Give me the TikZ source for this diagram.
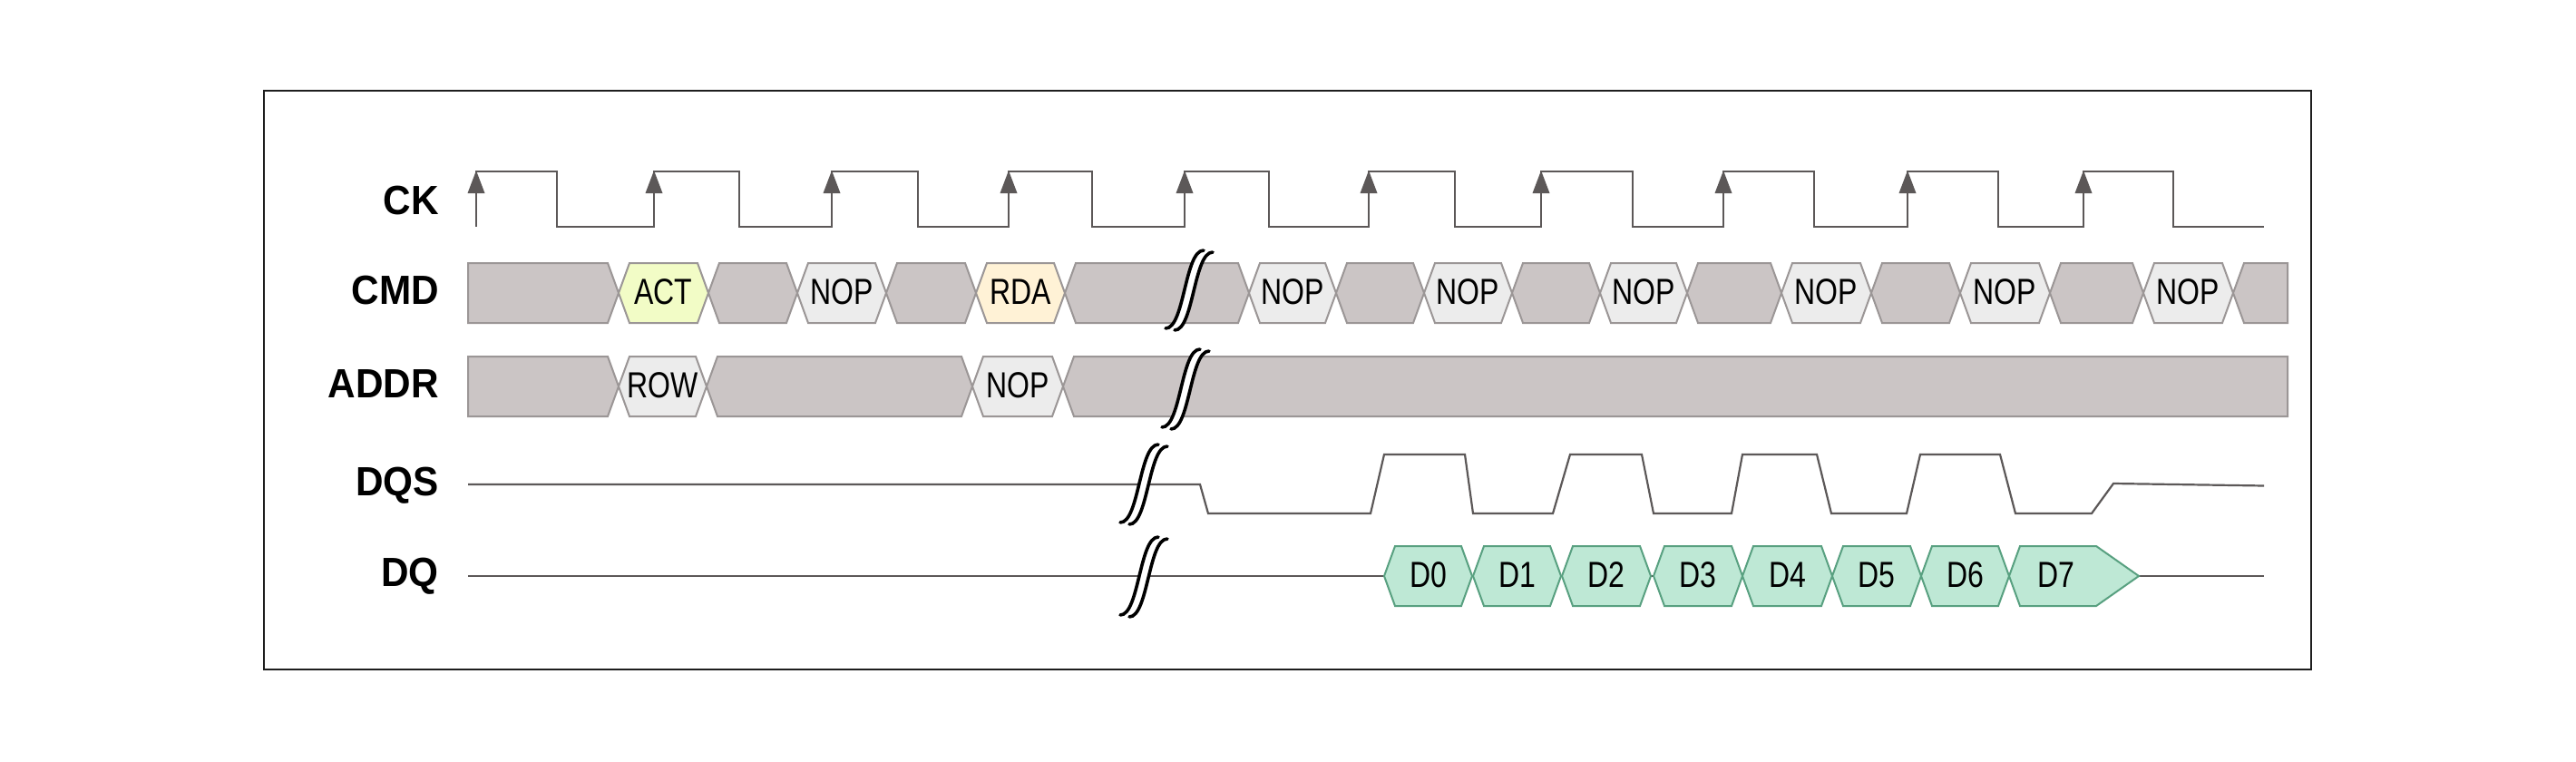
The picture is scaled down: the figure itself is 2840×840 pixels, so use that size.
\documentclass[tikz,border=0pt]{standalone}
\usepackage{fontspec}
\setmainfont{Liberation Sans}
\definecolor{cgrey}{RGB}{203,197,197}
\definecolor{cedge}{RGB}{155,150,150}
\definecolor{cnop}{RGB}{236,236,236}
\definecolor{cact}{RGB}{242,252,198}
\definecolor{crda}{RGB}{255,242,214}
\definecolor{cdat}{RGB}{190,232,213}
\definecolor{cdedge}{RGB}{88,160,128}
\definecolor{cwave}{RGB}{92,88,88}
\definecolor{cframe}{RGB}{30,30,30}
\tikzset{
  greycell/.style={fill=cgrey, draw=cedge, line width=2pt},
  nopcell/.style={fill=cnop, draw=cedge, line width=2pt},
  actcell/.style={fill=cact, draw=cedge, line width=2pt},
  rdacell/.style={fill=crda, draw=cedge, line width=2pt},
  datcell/.style={fill=cdat, draw=cdedge, line width=2pt},
  wave/.style={draw=cwave, line width=2.2pt},
  gapline/.style={draw=black, line width=3.6pt, line cap=round},
  ctext/.style={font=\fontsize{40}{48}\selectfont, inner sep=0pt, text height=28.6pt, text depth=0pt},
  lab/.style={font=\fontsize{45}{54}\selectfont\bfseries, inner sep=0pt, text height=32.2pt, text depth=0pt, anchor=east}
}
% hexagonal cell: x0, x1, ymid, style
\newcommand\hx[4]{\draw[#4] (#1,#3) -- ({#1+12},{#3-33}) -- ({#2-12},{#3-33}) -- (#2,#3) -- ({#2-12},{#3+33}) -- ({#1+12},{#3+33}) -- cycle;}
% cell with vertical left edge
\newcommand\hxl[4]{\draw[#4] (#1,{#3-33}) -- ({#2-12},{#3-33}) -- (#2,#3) -- ({#2-12},{#3+33}) -- (#1,{#3+33}) -- cycle;}
% cell with vertical right edge
\newcommand\hxr[4]{\draw[#4] (#1,#3) -- ({#1+12},{#3-33}) -- (#2,{#3-33}) -- (#2,{#3+33}) -- ({#1+12},{#3+33}) -- cycle;}
% break mark centred at cx, cy
\newcommand\gapmark[2]{%
  \fill[white] ({#1-26.5},{#2+42}) .. controls ({#1-5.5},{#2+42}) and ({#1-5.5},{#2-44}) .. ({#1+15.5},{#2-44}) -- ({#1+25.5},{#2-42}) .. controls ({#1+4.5},{#2-42}) and ({#1+4.5},{#2+44}) .. ({#1-16.5},{#2+44}) -- cycle;
  \draw[gapline] ({#1-26.5},{#2+42}) .. controls ({#1-5.5},{#2+42}) and ({#1-5.5},{#2-44}) .. ({#1+15.5},{#2-44});
  \draw[gapline] ({#1-16.5},{#2+44}) .. controls ({#1+4.5},{#2+44}) and ({#1+4.5},{#2-42}) .. ({#1+25.5},{#2-42});
}
\newcommand\ct[1]{\scalebox{0.8}[1]{#1}}
\newcommand\lt[1]{\scalebox{0.94}[1]{#1}}
\begin{document}
\begin{tikzpicture}[x=1pt,y=-1pt]
\useasboundingbox (0,0) rectangle (2840,840);
\fill[white] (0,0) rectangle (2840,840);
\draw[cframe, line width=2.6pt] (291,100) rectangle (2548,738);

% labels
\node[lab] (lck) at (484,220.5) {\lt{CK}};
\node[lab] (lcmd) at (484,319) {\lt{CMD}};
\node[lab] (laddr) at (484,422.5) {\lt{ADDR}};
\node[lab] (ldqs) at (484,530) {\lt{DQS}};
\node[lab] (ldq) at (484,630.5) {\lt{DQ}};

% clock
\draw[wave] (525,250) -- (525,189) -- (614,189) -- (614,250) -- (721,250) -- (721,189) -- (815,189) -- (815,250) -- (917,250) -- (917,189) -- (1012,189) -- (1012,250) -- (1112,250) -- (1112,189) -- (1204,189) -- (1204,250) -- (1306,250) -- (1306,189) -- (1399,189) -- (1399,250) -- (1509,250) -- (1509,189) -- (1604,189) -- (1604,250) -- (1699,250) -- (1699,189) -- (1800,189) -- (1800,250) -- (1900,250) -- (1900,189) -- (2000,189) -- (2000,250) -- (2103,250) -- (2103,189) -- (2203,189) -- (2203,250) -- (2297,250) -- (2297,189) -- (2396,189) -- (2396,250) -- (2496,250);
\foreach \x in {525,721,917,1112,1306,1509,1699,1900,2103,2297}
  \fill[cwave] (\x,188) -- ({\x-9.5},213) -- ({\x+9.5},213) -- cycle;

% CMD lane
\hxl{516}{682}{323}{greycell}
\hx{682}{781}{323}{actcell}
\hx{781}{879}{323}{greycell}
\hx{879}{977}{323}{nopcell}
\hx{977}{1076}{323}{greycell}
\hx{1076}{1174}{323}{rdacell}
\hx{1174}{1377}{323}{greycell}
\hx{1377}{1473}{323}{nopcell}
\hx{1473}{1570}{323}{greycell}
\hx{1570}{1667}{323}{nopcell}
\hx{1667}{1764}{323}{greycell}
\hx{1764}{1860}{323}{nopcell}
\hx{1860}{1964}{323}{greycell}
\hx{1964}{2063}{323}{nopcell}
\hx{2063}{2161}{323}{greycell}
\hx{2161}{2260}{323}{nopcell}
\hx{2260}{2363}{323}{greycell}
\hx{2363}{2462}{323}{nopcell}
\hxr{2462}{2522}{323}{greycell}
\node[ctext] (cact) at (731.5,321) {\ct{ACT}};
\node[ctext] (cnop1) at (928,321) {\ct{NOP}};
\node[ctext] (crda) at (1125,321) {\ct{RDA}};
\node[ctext] (cnop2) at (1425,321) {\ct{NOP}};
\node[ctext] (cnop3) at (1618.5,321) {\ct{NOP}};
\node[ctext] (cnop4) at (1812,321) {\ct{NOP}};
\node[ctext] (cnop5) at (2013.5,321) {\ct{NOP}};
\node[ctext] (cnop6) at (2210.5,321) {\ct{NOP}};
\node[ctext] (cnop7) at (2412.5,321) {\ct{NOP}};

% ADDR lane
\hxl{516}{682}{426}{greycell}
\hx{682}{779}{426}{nopcell}
\hx{779}{1072}{426}{greycell}
\hx{1072}{1172}{426}{nopcell}
\hxr{1172}{2522}{426}{greycell}
\node[ctext] (arow) at (730.5,424) {\ct{ROW}};
\node[ctext] (anop) at (1122,424) {\ct{NOP}};

% DQS lane
\draw[wave, line join=miter] (516,534) -- (1323,534) -- (1332,566) -- (1511,566) -- (1526,501) -- (1615,501) -- (1624,566) -- (1712,566) -- (1731,501) -- (1810,501) -- (1823,566) -- (1909,566) -- (1921,501) -- (2003,501) -- (2019,566) -- (2102,566) -- (2117,501) -- (2205,501) -- (2222,566) -- (2306,566) -- (2330,533) -- (2496,535.5);

% DQ lane
\draw[wave] (516,635) -- (1526,635);
\draw[wave] (1819,635) -- (1824,635);
\draw[wave] (2358,635) -- (2496,635);
\hx{1526}{1623}{635}{datcell}
\hx{1624}{1721}{635}{datcell}
\hx{1722}{1820}{635}{datcell}
\hx{1823}{1921}{635}{datcell}
\hx{1921}{2020}{635}{datcell}
\hx{2020}{2118}{635}{datcell}
\hx{2118}{2215}{635}{datcell}
\draw[datcell] (2215,635) -- (2227,602) -- (2311,602) -- (2358,635) -- (2311,668) -- (2227,668) -- cycle;
\node[ctext] (d0) at (1574.5,633) {\ct{D0}};
\node[ctext] (d1) at (1672.5,633) {\ct{D1}};
\node[ctext] (d2) at (1771,633) {\ct{D2}};
\node[ctext] (d3) at (1872,633) {\ct{D3}};
\node[ctext] (d4) at (1970.5,633) {\ct{D4}};
\node[ctext] (d5) at (2069,633) {\ct{D5}};
\node[ctext] (d6) at (2166.5,633) {\ct{D6}};
\node[ctext] (d7) at (2267,633) {\ct{D7}};

% break marks
\gapmark{1311.5}{320}
\gapmark{1307.5}{429}
\gapmark{1261.5}{534}
\gapmark{1261.5}{636}
\end{tikzpicture}
\end{document}
